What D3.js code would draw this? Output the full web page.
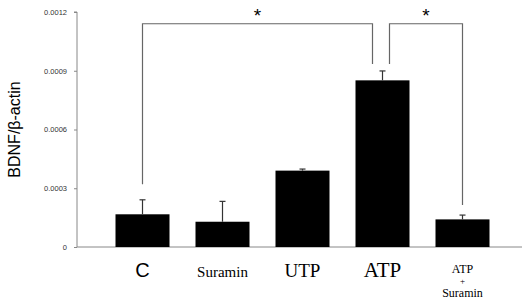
<!DOCTYPE html>
<html>
<head>
<meta charset="utf-8">
<script src="https://cdn.jsdelivr.net/npm/d3@7"></script>
<style>
  body { margin: 0; background: #fff; }
  svg { display: block; }
</style>
</head>
<body>
<svg id="chart" width="526" height="299"></svg>
<script>
// data
const categories = ["C", "Suramin", "UTP", "ATP", "ATP+Suramin"];
const means = [0.000167, 0.000129, 0.000390, 0.000851, 0.000141];
const errors = [0.000074, 0.000104, 0.000008, 0.000048, 0.000022];
const yTicks = [0, 0.0003, 0.0006, 0.0009, 0.0012];
const yTickLabels = ["0", "0.0003", "0.0006", "0.0009", "0.0012"];

const SANS = "Liberation Sans";
const SERIF = "Liberation Serif";

const svg = d3.select("#chart");
const width = 526;
const height = 299;
const margin = { top: 12, right: 4, bottom: 52, left: 77 };

const x = d3.scaleBand()
    .domain(categories)
    .range([102.5, 502.5])
    .paddingInner(0.325)
    .paddingOuter(0.1625);

const y = d3.scaleLinear()
    .domain([0, 0.0012])
    .range([height - margin.bottom, margin.top]);

// y axis
const yAxis = svg.append("g")
    .attr("transform", `translate(${margin.left},0)`)
    .call(d3.axisLeft(y).tickValues(yTicks).tickSize(3).tickFormat((d, i) => yTickLabels[i]));
yAxis.attr("font-family", SANS).attr("font-size", 7.5);
yAxis.select(".domain").attr("stroke", "#888").attr("d", `M-3,${y(0.0012)}H0V${y(0)}`);
yAxis.selectAll(".tick line").attr("stroke", "#888");
yAxis.selectAll(".tick text")
    .attr("x", -10)
    .attr("fill", "#333");

// x axis line
svg.append("line")
    .attr("x1", margin.left).attr("x2", width - margin.right)
    .attr("y1", y(0)).attr("y2", y(0))
    .attr("stroke", "#888");

// bars
svg.selectAll(".bar")
    .data(categories)
    .enter().append("rect")
    .attr("class", "bar")
    .attr("x", d => x(d))
    .attr("width", x.bandwidth())
    .attr("y", (d, i) => y(means[i]))
    .attr("height", (d, i) => y(0) - y(means[i]))
    .attr("fill", "#000");

// error bars (upper only)
const eb = svg.selectAll(".err")
    .data(categories)
    .enter().append("g")
    .attr("class", "err")
    .attr("stroke", "#333")
    .attr("stroke-width", 1.2);
eb.append("line")
    .attr("x1", d => x(d) + x.bandwidth() / 2)
    .attr("x2", d => x(d) + x.bandwidth() / 2)
    .attr("y1", (d, i) => y(means[i]))
    .attr("y2", (d, i) => y(means[i] + errors[i]));
eb.append("line")
    .attr("x1", d => x(d) + x.bandwidth() / 2 - 3)
    .attr("x2", d => x(d) + x.bandwidth() / 2 + 3)
    .attr("y1", (d, i) => y(means[i] + errors[i]))
    .attr("y2", (d, i) => y(means[i] + errors[i]));

// significance brackets
const cx = c => x(c) + x.bandwidth() / 2;
const brackets = [
    { from: "C", to: "ATP", fromY: 0.00032, toY: 0.000935, dx2: -10 },
    { from: "ATP", to: "ATP+Suramin", fromY: 0.000935, toY: 0.000215, dx1: 7 }
];
const topY = 0.00114;
brackets.forEach(b => {
    const x1 = cx(b.from) + (b.dx1 || 0);
    const x2 = cx(b.to) + (b.dx2 || 0);
    svg.append("path")
        .attr("d", `M${x1},${y(b.fromY)}V${y(topY)}H${x2}V${y(b.toY)}`)
        .attr("fill", "none")
        .attr("stroke", "#666")
        .attr("stroke-width", 1.2);
    svg.append("text")
        .attr("font-family", SANS)
        .attr("font-size", 19)
        .attr("x", (x1 + x2) / 2)
        .attr("y", y(topY) - 2)
        .attr("text-anchor", "middle")
        .text("*");
});

// category labels
const labelStyle = {
    "C": { font: SANS, size: 20 },
    "Suramin": { font: SERIF, size: 15 },
    "UTP": { font: SERIF, size: 19 },
    "ATP": { font: SERIF, size: 21 }
};
categories.forEach(c => {
    if (c === "ATP+Suramin") {
        const t = svg.append("text")
            .attr("font-family", SERIF)
            .attr("font-size", 12)
            .attr("text-anchor", "middle");
        t.append("tspan").attr("x", cx(c)).attr("y", 273).text("ATP");
        t.append("tspan").attr("x", cx(c)).attr("y", 284).attr("font-size", 9).text("+");
        t.append("tspan").attr("x", cx(c)).attr("y", 297).text("Suramin");
    } else {
        svg.append("text")
            .attr("font-family", labelStyle[c].font)
            .attr("font-size", labelStyle[c].size)
            .attr("x", cx(c))
            .attr("y", 277)
            .attr("text-anchor", "middle")
            .text(c);
    }
});

// y label
svg.append("text")
    .attr("font-family", SANS)
    .attr("font-size", 16)
    .attr("transform", `translate(20,${(y(0) + y(0.0012)) / 2}) rotate(-90)`)
    .attr("text-anchor", "middle")
    .text("BDNF/β-actin");
</script>
</body>
</html>
